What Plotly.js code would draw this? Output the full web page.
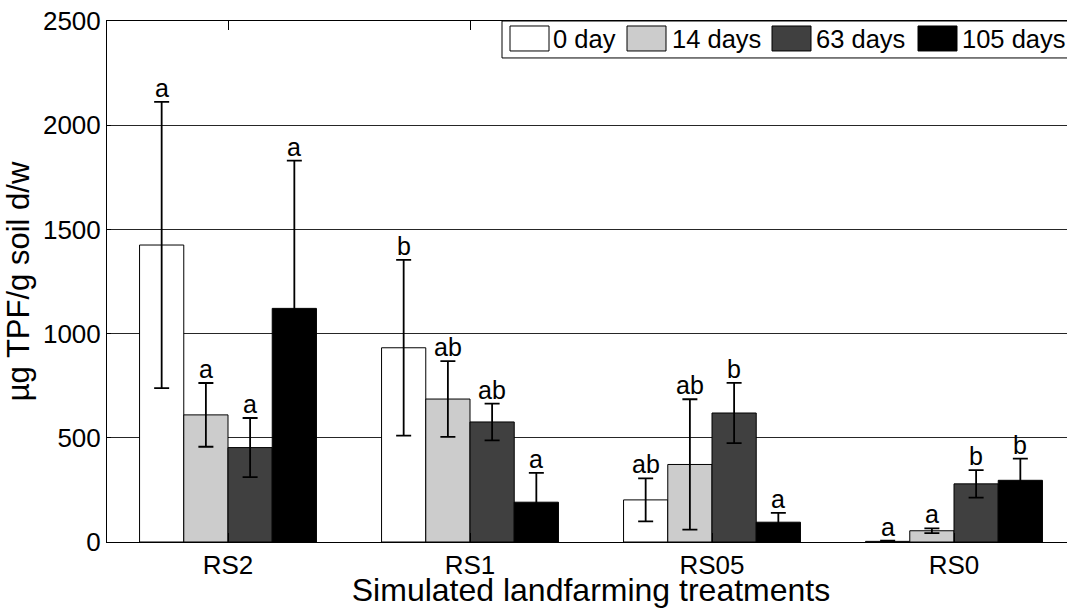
<!DOCTYPE html>
<html>
<head>
<meta charset="utf-8">
<script src="https://cdn.plot.ly/plotly-3.0.1.min.js"></script>
<style>
  html, body { margin: 0; padding: 0; background: #fff; }
  #wrap { width: 1067px; height: 608px; overflow: hidden; position: relative; }
  #chart { width: 1090px; height: 608px; }
</style>
</head>
<body>
<div id="wrap"><div id="chart"></div></div>
<script>
// ---- data ----
const categories = ["RS2", "RS1", "RS05", "RS0"];
const seriesNames = ["0 day", "14 days", "63 days", "105 days"];
const day0   = [1425, 932, 202, 3];
const day14  = [610, 686, 372, 54];
const day63  = [453, 576, 619, 279];
const day105 = [1121, 191, 95, 296];
const err0   = [687, 422, 103, 4];
const err14  = [153, 182, 313, 11];
const err63  = [142, 88, 145, 66];
const err105 = [709, 141, 45, 104];
const letters0   = ["a", "b", "ab", "a"];
const letters14  = ["a", "ab", "ab", "a"];
const letters63  = ["a", "ab", "b", "b"];
const letters105 = ["a", "a", "a", "b"];
const yTicks = [0, 500, 1000, 1500, 2000, 2500];

// ---- styling ----
const colors = ["#ffffff", "#cccccc", "#404040", "#000000"];
const FONT = "Liberation Sans, Arial, Helvetica, sans-serif";
const bargap = 0.269;

const values = [day0, day14, day63, day105];
const errors = [err0, err14, err63, err105];
const letters = [letters0, letters14, letters63, letters105];
const xIdx = categories.map((_, i) => i);

const traces = values.map((v, j) => ({
  type: "bar",
  name: seriesNames[j],
  x: xIdx,
  y: v,
  marker: { color: colors[j], line: { color: "#000", width: 1 } },
  error_y: { type: "data", array: errors[j], visible: true, color: "#000", thickness: 1.8, width: 7.5 },
  showlegend: false,
  hoverinfo: "skip"
}));

// letters above error bars
const nSeries = values.length;
const barW = (1 - bargap) / nSeries;
const annotations = [];
values.forEach((v, j) => {
  v.forEach((val, i) => {
    annotations.push({
      x: i + (j - (nSeries - 1) / 2) * barW,
      y: val + errors[j][i],
      xref: "x", yref: "y",
      text: letters[j][i],
      showarrow: false,
      xanchor: "center", yanchor: "bottom",
      yshift: -2,
      font: { family: FONT, size: 25, color: "#000" }
    });
  });
});

// manual legend (pixel -> paper conversion)
const plotL = 107, plotW = 968, plotT = 21, plotH = 521.5;
const px = p => (p - plotL) / plotW;
const py = p => (plotT + plotH - p) / plotH;
const shapes = [{
  type: "rect", xref: "paper", yref: "paper",
  x0: px(502), x1: px(1085), y0: py(58), y1: py(21),
  fillcolor: "#fff", line: { color: "#000", width: 1 }, layer: "above"
}];
const swatchX = [510, 627, 772, 918];
const textX = [551, 670, 814, 960];
seriesNames.forEach((name, j) => {
  shapes.push({
    type: "rect", xref: "paper", yref: "paper",
    x0: px(swatchX[j]), x1: px(swatchX[j] + 39), y0: py(51), y1: py(26),
    fillcolor: colors[j], line: { color: "#000", width: 1 }, layer: "above"
  });
  annotations.push({
    x: px(textX[j]), y: py(39), xref: "paper", yref: "paper",
    text: name, showarrow: false, xanchor: "left", yanchor: "middle",
    font: { family: FONT, size: 25.5, color: "#000" }
  });
});

const layout = {
  width: 1090, height: 608,
  margin: { l: plotL, r: 1090 - plotL - plotW, t: plotT, b: 608 - plotT - plotH },
  paper_bgcolor: "#fff", plot_bgcolor: "#fff",
  barmode: "group", bargap: bargap, bargroupgap: 0,
  font: { family: FONT, color: "#000" },
  xaxis: {
    range: [-0.5, 3.5],
    tickvals: xIdx, ticktext: categories,
    ticks: "inside", ticklen: 9, tickcolor: "#000", tickwidth: 1,
    showline: true, linecolor: "#000", linewidth: 1, mirror: "ticks",
    showgrid: false, zeroline: false,
    tickfont: { family: FONT, size: 26, color: "#000" },
    title: { text: "Simulated landfarming treatments", font: { family: FONT, size: 32, color: "#000" }, standoff: 0 }
  },
  yaxis: {
    range: [0, 2500],
    tickvals: yTicks,
    ticks: "inside", ticklen: 4, tickcolor: "#000", tickwidth: 1,
    showline: true, linecolor: "#000", linewidth: 1, mirror: "ticks",
    showgrid: true, gridcolor: "#262626", gridwidth: 1,
    zeroline: false,
    tickfont: { family: FONT, size: 26, color: "#000" },
    title: { text: "µg TPF/g soil d/w", font: { family: FONT, size: 31, color: "#000" }, standoff: 4 }
  },
  shapes: shapes,
  annotations: annotations
};

Plotly.newPlot("chart", traces, layout, { displayModeBar: false, staticPlot: true });
</script>
</body>
</html>
